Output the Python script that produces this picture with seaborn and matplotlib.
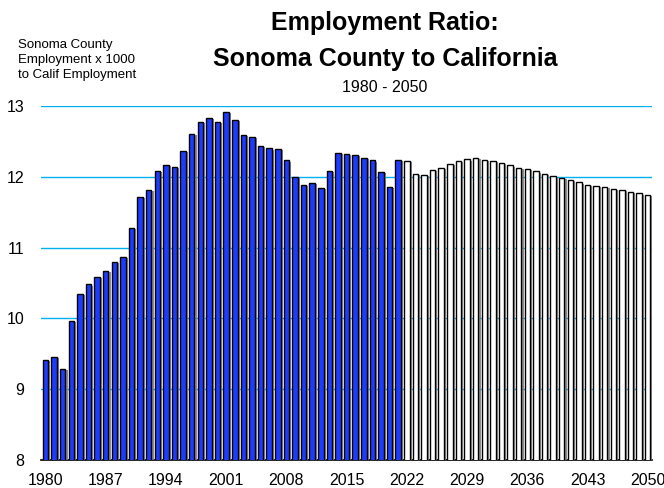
import pandas as pd
import seaborn as sns
import matplotlib.pyplot as plt
import matplotlib.patheffects as pe

years = list(range(1980, 2051))
historic = [9.42, 9.46, 9.29, 9.96, 10.35, 10.48, 10.58, 10.67, 10.80, 10.87,
            11.28, 11.71, 11.82, 12.08, 12.17, 12.14, 12.36, 12.61, 12.77, 12.83,
            12.77, 12.91, 12.80, 12.59, 12.56, 12.44, 12.40, 12.39, 12.23, 12.00,
            11.88, 11.91, 11.84, 12.08, 12.34, 12.32, 12.31, 12.27, 12.23, 12.07,
            11.86, 12.24]
forecast = [12.22, 12.04, 12.02, 12.09, 12.13, 12.18, 12.22, 12.245, 12.26, 12.235,
            12.22, 12.19, 12.16, 12.13, 12.11, 12.075, 12.04, 12.005, 11.98, 11.95,
            11.92, 11.89, 11.87, 11.85, 11.83, 11.81, 11.78, 11.765, 11.74]
tick_years = [1980, 1987, 1994, 2001, 2008, 2015, 2022, 2029, 2036, 2043, 2050]

df = pd.DataFrame({
    "Year": years,
    "Ratio": historic + forecast,
    "Kind": ["Actual"] * len(historic) + ["Forecast"] * len(forecast),
})

sns.set_style("white")
plt.rcParams['font.family'] = ['Liberation Sans', 'DejaVu Sans']
plt.rcParams['text.color'] = 'black'
plt.rcParams['xtick.color'] = 'black'
plt.rcParams['ytick.color'] = 'black'

fig = plt.figure(figsize=(6.64, 4.88), dpi=100)
ax = fig.add_axes([0.062, 0.057, 0.92, 0.726])

sns.barplot(data=df, x="Year", y="Ratio", hue="Kind",
            palette={"Actual": "#1e3cff", "Forecast": "white"}, saturation=1,
            dodge=False, width=0.64, edgecolor="black", linewidth=1.0,
            legend=False, ax=ax, zorder=3)
# little grey drop shadow like the excel original
for p in ax.patches:
    p.set_path_effects([pe.SimplePatchShadow(offset=(1.5, -0.8), shadow_rgbFace="gray", alpha=0.9),
                        pe.Normal()])

ax.set_ylim(8, 13)
ax.set_xlim(-0.5, len(years) - 0.5)
ax.set_yticks([8, 9, 10, 11, 12, 13])
ax.yaxis.grid(True, color="#00b0f0", linewidth=1.0, zorder=0)
ax.set_axisbelow(True)
ax.set_xticks([years.index(y) for y in tick_years])
ax.set_xticklabels([str(y) for y in tick_years])
ax.tick_params(axis="both", length=0, labelsize=11.5, labelcolor="black")
ax.tick_params(axis="x", pad=9)
ax.tick_params(axis="y", pad=12)
ax.set_xlabel("")
ax.set_ylabel("")
for s in ["top", "right", "left"]:
    ax.spines[s].set_visible(False)
ax.spines["bottom"].set_color("black")
ax.spines["bottom"].set_linewidth(1.2)

fig.text(0.58, 0.952, "Employment Ratio:", ha="center", va="center",
         fontsize=18, fontweight="bold")
fig.text(0.58, 0.88, "Sonoma County to California", ha="center", va="center",
         fontsize=18, fontweight="bold")
fig.text(0.58, 0.82, "1980 - 2050", ha="center", va="center", fontsize=11.5)
fig.text(0.027, 0.877, "Sonoma County\nEmployment x 1000\nto Calif Employment",
         ha="left", va="center", fontsize=9.5, linespacing=1.3)

fig.savefig("out.png", dpi=100)
